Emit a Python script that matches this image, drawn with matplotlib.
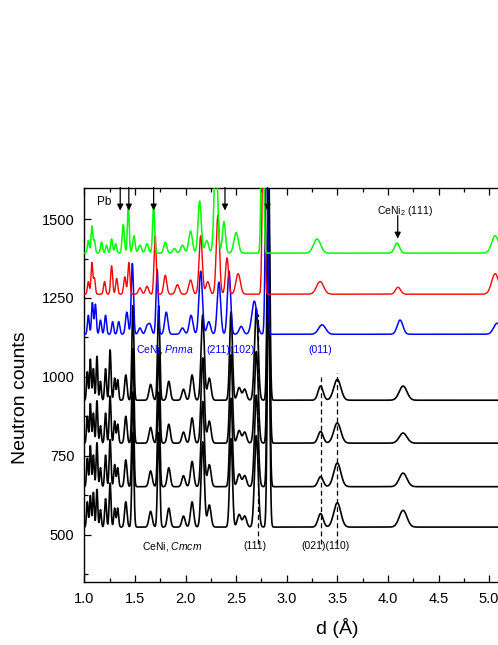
import numpy as np
import matplotlib
matplotlib.use("Agg")
import matplotlib.pyplot as plt
from matplotlib.ticker import MultipleLocator

plt.rcParams['font.family'] = ['Liberation Sans', 'DejaVu Sans']
plt.rcParams['mathtext.fontset'] = 'custom'
plt.rcParams['mathtext.rm'] = 'Liberation Sans'
plt.rcParams['mathtext.it'] = 'Liberation Sans:italic'

# ---------------- data ----------------
# green pattern
green_base = 1392
green_pos = [1.04, 1.075, 1.10, 1.17, 1.22, 1.27, 1.31, 1.385, 1.435, 1.49, 1.55, 1.62, 1.685,
             1.80, 1.89, 1.97, 2.05, 2.14, 2.21, 2.30, 2.38, 2.50, 2.76, 3.30, 4.09, 5.06]
green_h = [40, 85, 40, 35, 25, 45, 30, 90, 150, 55, 25, 30, 150,
           35, 15, 25, 70, 165, 40, 320, 100, 65, 650, 45, 32, 55]
green_w = [0.009, 0.009, 0.009, 0.010, 0.010, 0.010, 0.010, 0.011, 0.009, 0.012, 0.015, 0.015, 0.010,
           0.015, 0.015, 0.018, 0.018, 0.016, 0.018, 0.017, 0.015, 0.022, 0.011, 0.035, 0.025, 0.035]

# red pattern
red_base = 1262
red_pos = [1.04, 1.075, 1.10, 1.20, 1.27, 1.32, 1.40, 1.44, 1.55, 1.62, 1.70, 1.80, 1.92, 2.05,
           2.15, 2.22, 2.32, 2.41, 2.52, 2.77, 3.33, 4.10, 5.06]
red_h = [40, 100, 50, 40, 90, 50, 55, 100, 20, 25, 185, 60, 30, 45,
         185, 40, 250, 115, 65, 650, 40, 22, 65]
red_w = [0.009, 0.009, 0.009, 0.010, 0.010, 0.010, 0.011, 0.010, 0.015, 0.015, 0.011, 0.015, 0.018, 0.018,
         0.016, 0.018, 0.016, 0.015, 0.022, 0.011, 0.035, 0.025, 0.035]

# blue pattern (CeNi, Pnma)
blue_base = 1135
blue_pos = [1.04, 1.08, 1.11, 1.16, 1.21, 1.28, 1.34, 1.42, 1.475, 1.55, 1.62, 1.65, 1.72,
            1.81, 1.97, 2.055, 2.15, 2.23, 2.33, 2.43, 2.55, 2.68, 2.80, 3.35, 4.12, 5.08]
blue_h = [60, 100, 95, 45, 60, 40, 40, 70, 225, 20, 25, 30, 205,
          70, 20, 60, 200, 40, 165, 200, 25, 105, 700, 30, 45, 35]
blue_w = [0.009, 0.009, 0.009, 0.010, 0.010, 0.010, 0.011, 0.013, 0.011, 0.015, 0.015, 0.015, 0.011,
          0.016, 0.018, 0.018, 0.017, 0.018, 0.017, 0.016, 0.020, 0.025, 0.011, 0.035, 0.028, 0.035]

# black patterns (CeNi, Cmcm), four temperatures
black_bases = [926, 790, 652, 524]
black_pos = [1.03, 1.06, 1.09, 1.125, 1.16, 1.21, 1.255, 1.30, 1.33, 1.41, 1.48, 1.655,
             1.735, 1.835, 1.98, 2.065, 2.17, 2.235, 2.45, 2.53, 2.585, 2.70, 2.82,
             3.335, 3.50, 4.15]
black_w = [0.008, 0.008, 0.008, 0.008, 0.008, 0.009, 0.009, 0.009, 0.009, 0.012, 0.010, 0.016,
           0.011, 0.015, 0.016, 0.016, 0.016, 0.017, 0.014, 0.018, 0.018, 0.018, 0.012,
           0.025, 0.035, 0.038]
black_h1 = [90, 130, 100, 140, 60, 100, 160, 70, 65, 80, 300, 50,
            300, 60, 35, 80, 270, 70, 280, 40, 35, 290, 800, 45, 66, 45]
black_h2 = [85, 125, 95, 135, 55, 95, 150, 70, 60, 85, 300, 50,
            300, 60, 35, 80, 270, 70, 280, 40, 35, 290, 800, 37, 64, 32]
black_h3 = [90, 130, 100, 140, 60, 100, 150, 70, 60, 85, 300, 50,
            300, 60, 35, 80, 270, 70, 280, 40, 35, 290, 800, 32, 75, 43]
black_h4 = [80, 100, 110, 120, 55, 90, 140, 60, 60, 80, 300, 50,
            300, 60, 35, 80, 270, 70, 280, 40, 35, 290, 800, 43, 77, 53]
black_heights = [black_h1, black_h2, black_h3, black_h4]

# Pb reflections marked by arrows, CeNi2 (111)
pb_arrows = [1.355, 1.44, 1.685, 2.39, 2.81]
ceni2_arrow = 4.097
# dashed index lines (d, from, to)
dash_d = [2.72, 3.335, 3.50]
dash_top = [1200, 1000, 1013]
dash_bottom = [471, 471, 471]

xticks = [1.0, 1.5, 2.0, 2.5, 3.0, 3.5, 4.0, 4.5, 5.0]
yticks = [500, 750, 1000, 1250, 1500]

# ---------------- profile builder ----------------
d = np.arange(1.0, 5.2, 0.002)


def profile(base, pos, h, w):
    y = np.full_like(d, float(base))
    for p, a, s in zip(pos, h, w):
        y += a * np.exp(-0.5 * ((d - p) / s) ** 2)
    return y


fig = plt.figure(figsize=(4.98, 6.45), dpi=100)
W, H = 498, 645
ax_left, ax_bottom, ax_top = 84.3, 582, 187.5
xmin, xmax = 1.0, 5.2
px_per_unit = 101.2
ax = fig.add_axes([ax_left / W, 1 - ax_bottom / H,
                   (xmax - xmin) * px_per_unit / W, (ax_bottom - ax_top) / H])

for base, hs in zip(black_bases, black_heights):
    ax.plot(d, profile(base, black_pos, hs, black_w), color='black', lw=1.2, zorder=2)
ax.plot(d, profile(blue_base, blue_pos, blue_h, blue_w), color='#0000ff', lw=1.1, zorder=3)
ax.plot(d, profile(red_base, red_pos, red_h, red_w), color='#ff0000', lw=1.0, zorder=4)
ax.plot(d, profile(green_base, green_pos, green_h, green_w), color='#00ff00', lw=1.1, zorder=5)

for xd, t, b in zip(dash_d, dash_top, dash_bottom):
    ax.plot([xd, xd], [b, t], color='black', lw=0.9, ls=(0, (4, 2.5)), zorder=6)

for xa in pb_arrows:
    ax.annotate('', xy=(xa, 1527), xytext=(xa, 1600),
                arrowprops=dict(arrowstyle='-|>', color='black', lw=0.9,
                                mutation_scale=9, shrinkA=0, shrinkB=0), zorder=7)
ax.annotate('', xy=(ceni2_arrow, 1438), xytext=(ceni2_arrow, 1511),
            arrowprops=dict(arrowstyle='-|>', color='black', lw=0.9,
                            mutation_scale=9, shrinkA=0, shrinkB=0), zorder=7)

fs = 7.5
ax.text(1.195, 1553, 'Pb', fontsize=8.5, ha='center', va='center', zorder=8)
ax.text(4.164, 1527, 'CeNi$_2$ (111)', fontsize=fs, ha='center', va='center', zorder=8)
ax.text(1.506, 1088, r'CeNi, $\mathit{Pnma}$', fontsize=fs, color='#0000ff',
        ha='left', va='center', zorder=8)
ax.text(2.21, 1086, '(211)(102)', fontsize=fs, color='#0000ff', ha='left', va='center', zorder=8)
ax.text(3.21, 1084, '(011)', fontsize=fs, color='#0000ff', ha='left', va='center', zorder=8)
ax.text(1.57, 462, r'CeNi, $\mathit{Cmcm}$', fontsize=fs, ha='left', va='center', zorder=8)
ax.text(2.568, 465, '(111)', fontsize=fs, ha='left', va='center', zorder=8)
ax.text(3.148, 465, '(021)(110)', fontsize=fs, ha='left', va='center', zorder=8)

ax.set_xlim(xmin, xmax)
ax.set_ylim(350, 1600)
ax.set_xticks(xticks)
ax.set_xticklabels([f'{v:.1f}' for v in xticks])
ax.set_yticks(yticks)
ax.xaxis.set_minor_locator(MultipleLocator(0.25))
ax.yaxis.set_minor_locator(MultipleLocator(125))
ax.tick_params(which='both', direction='in', top=True, right=True, labelsize=10.5, width=0.9)
ax.tick_params(which='major', length=5, pad=7)
ax.tick_params(which='minor', length=3)
for sp in ax.spines.values():
    sp.set_linewidth(1.0)

fig.text(21 / W, 1 - 398 / H, 'Neutron counts', rotation=90, fontsize=14,
         ha='center', va='center')
fig.text(337 / W, 1 - 628 / H, 'd (Å)', fontsize=14, ha='center', va='center')

fig.savefig('out.png', dpi=100)
